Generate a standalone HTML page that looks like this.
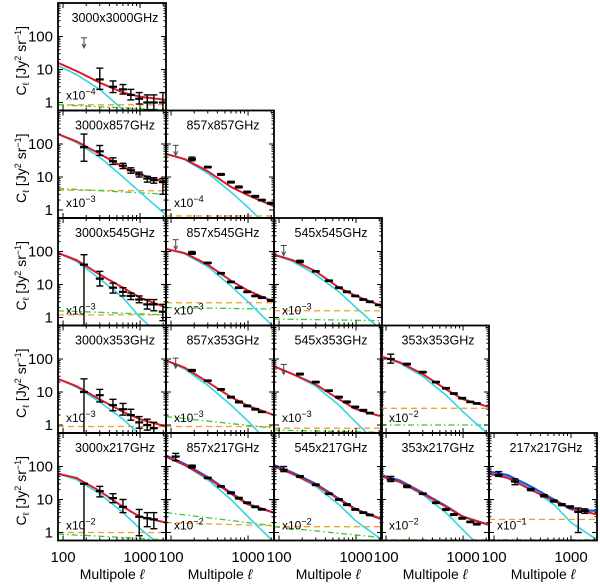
<!DOCTYPE html>
<html><head><meta charset="utf-8"><style>
html,body{margin:0;padding:0;background:#fff;}
svg text{font-family:"Liberation Sans",sans-serif;fill:#000;}
</style></head><body>
<svg id="c" width="600" height="582" xmlns="http://www.w3.org/2000/svg"></svg>
<script>
// Model curve grid (multipole values)
const LGRID = [86, 150, 300, 600, 1000, 2180];
// Data bin multipoles
const LBIN = [115, 187, 300, 445, 600, 760, 975, 1240, 1510, 1980];
// Panel titles [row][col]
const titles = [
 ["3000x3000GHz"],
 ["3000x857GHz","857x857GHz"],
 ["3000x545GHz","857x545GHz","545x545GHz"],
 ["3000x353GHz","857x353GHz","545x353GHz","353x353GHz"],
 ["3000x217GHz","857x217GHz","545x217GHz","353x217GHz","217x217GHz"]];
const exps = [[-4],[-3,-4],[-3,-3,-3],[-3,-3,-3,-2],[-2,-2,-2,-2,-1]];
// total model (red) at LGRID
const red = [
 [[16,9,4,2,1.5,1.2]],
 [[200,120,50,20,12,7],[50,35,15,5,2.8,1.3]],
 [[90,55,20,8,4,2],[120,90,40,13,6.5,3],[80,55,25,8,4.5,2.2]],
 [[25,15,6,2.5,1.5,0.9],[90,55,20,7,3.8,2],[60,35,17,6,3,1.8],[120,80,35,12,6,3.5]],
 [[60,45,18,6,3,2],[200,110,45,15,7,4],[100,60,28,10,5,2.5],[50,35,15,6,3,1.7],[60,45,20,9,5.5,3.5]]];
// 1-halo-like steep term (cyan)
const cyan = [
 [[13,7,2.5,0.6,0.2,0.05]],
 [[200,110,40,10,3.5,0.7],[50,34,13,3.5,1.2,0.2]],
 [[90,50,15,4,1,0.2],[120,85,35,9,3,0.5],[80,50,20,6,2,0.4]],
 [[25,14,5,1.5,0.5,0.1],[90,50,16,4,1.3,0.2],[60,35,15,4,1.2,0.2],[120,75,30,8,2.5,0.5]],
 [[60,40,15,4,1.3,0.3],[200,110,40,10,3,0.5],[100,58,25,7,2.2,0.6],[50,33,14,4,1.2,0.2],[70,50,22,7,2,0.6]]];
// blue (bottom row, cols 1-4)
const blue = [null,[215,120,48,16,7.2,4],[110,65,30,10.5,5,2.5],[55,38,16,6.3,3,1.7],[70,55,25,10,5,4.5]];
// orange dashed [start,end], green dash-dot [start,end]
const orange = [[[0.85,0.85]],[[4,3.8],[0.66,0.66]],[[1.2,1.2],[2.8,2.8],[1.6,1.6]],[[0.9,0.9],[0.9,0.9],[0.8,0.8],[3.2,3.2]],[[1,1],[2,1.6],[1.5,1.5],[0.6,0.6],[2.5,2.5]]];
const green = [[[0.85,0.6]],[[4.5,3],[0.4,0.4]],[[1.6,1.2],[2,1.8],[0.9,0.8]],[[0.5,0.5],[1.8,0.8],[0.7,0.6],[1,1]],[[0.9,0.6],[4,1.6],[1.5,0.7],[0.4,0.4],[0.6,0.6]]];
// data points: [binIndex, value, lo, hi, isUpperLimit]
const pts = [
 [[[1,60,60,60,1],[2,5,2.5,11],[3,3,2,4.5],[4,2.5,1.8,3.5],[5,1.7,1.2,2.5],[6,1.3,0.9,2],[7,1,0.6,1.7],[8,1,0.6,1.7],[9,1,0.4,2]]],
 [[[1,80,30,200],[2,60,45,90],[3,30,24,38],[4,22,18,26],[5,16,13,19],[6,12,10,14],[7,9,7,10.5],[8,8,6.5,9.5],[9,7,3,9]],
  [[0,60,60,60,1],[1,35,31,40],[2,20,19,21],[3,12,11.3,12.7],[4,7,6.6,7.4],[5,5,4.7,5.3],[6,3.5,3.3,3.7],[7,2.6,2.45,2.75],[8,2,1.9,2.1],[9,1.6,1.5,1.7]]],
 [[[1,40,0.5,80],[2,15,9,25],[3,8,5.5,11],[4,6,4.5,8],[5,4.5,3.5,5.5],[6,3.5,2.8,4.5],[7,2.5,1.8,3.5],[8,2.5,1.6,3.5],[9,1.5,0.8,2.5]],
  [[0,150,150,150,1],[1,90,82,100],[2,45,43,47],[3,22,21,23],[4,12,11.4,12.6],[5,8,7.6,8.4],[6,6,5.7,6.3],[7,4.5,4.3,4.7],[8,4,3.8,4.2],[9,3.3,3.1,3.5]],
  [[0,100,100,100,1],[1,50,46,54],[2,25,24,26],[3,13,12.4,13.6],[4,8,7.6,8.4],[5,6,5.7,6.3],[6,4.5,4.3,4.7],[7,3.5,3.35,3.65],[8,3,2.85,3.15],[9,2.4,2.3,2.5]]],
 [[[1,10,0.3,25],[2,8,5,12],[3,4,2.7,6],[4,3,2,4.5],[5,2,1.4,3],[6,1.2,0.8,1.8],[7,1,0.7,1.5],[8,0.8,0.5,1.2]],
  [[0,70,70,70,1],[1,45,42,48],[2,22,21,23],[3,12,11.4,12.6],[4,7,6.6,7.4],[5,5,4.7,5.3],[6,3.8,3.6,4],[7,3,2.85,3.15],[8,2.5,2.4,2.6]],
  [[0,45,45,45,1],[1,35,33,37],[2,20,19,21],[3,11,10.5,11.5],[4,7,6.6,7.4],[5,5,4.7,5.3],[6,3.5,3.3,3.7],[7,2.8,2.65,2.95],[8,2.3,2.2,2.4]],
  [[0,100,75,140],[1,70,66,74],[2,40,38,42],[3,20,19,21],[4,13,12.4,13.6],[5,9,8.6,9.4],[6,6.5,6.2,6.8],[7,5,4.8,5.2],[8,4.5,4.3,4.7]]],
 [[[1,30,0.4,30],[2,18,12,25],[3,11,8,15],[4,6,4,10],[6,3,0.8,5],[7,2.7,1.5,4],[8,2.5,1.3,4]],
  [[0,200,150,250],[1,100,90,110],[2,45,43,47],[3,25,24,26],[4,16,15,17],[5,11,10.4,11.6],[6,8,7.6,8.4],[7,6,5.7,6.3],[8,5,4.8,5.2]],
  [[0,80,70,100],[1,50,47,53],[2,28,26.5,29.5],[3,15,14.3,15.7],[4,10,9.5,10.5],[5,7,6.6,7.4],[6,5,4.75,5.25],[7,4,3.8,4.2],[8,3.4,3.25,3.55]],
  [[0,40,35,50,0],[1,25,23,27],[2,15,14.3,15.7],[3,8,7.6,8.4],[4,5,4.7,5.3],[5,3.5,3.3,3.7],[6,2.7,2.55,2.85],[7,2.1,2,2.2],[8,1.8,1.7,1.9]],
  [[0,55,50,70],[1,35,28,42],[2,20,18.5,21.5],[3,13,12,14],[4,9,8.4,9.6],[5,7,6.5,7.5],[6,6,5.6,6.4],[7,4.2,1,5.5],[8,4.5,3.8,5.2]]]];

const NS="http://www.w3.org/2000/svg";
const svg=document.getElementById('c');
function mk(tag,at,parent){const e=document.createElementNS(NS,tag);for(const k in at)e.setAttribute(k,at[k]);(parent||svg).appendChild(e);return e;}
const colL=[58,166,274,381,489], PW=108, rowT=[3,110.5,218,325.5,433], PH=107.5;
const LMIN=86, LDEC=77, VDEC=33;
function xs(c,l){return colL[c]+Math.log10(l/LMIN)*LDEC;}
function ys(r,v){return rowT[r]+PH-8-Math.log10(v)*VDEC;}
function pathFrom(r,c,arr){let d='';const n=40;for(let i=0;i<=n;i++){const t=i/n;const lg=Math.log10(LGRID[0])+t*(Math.log10(LGRID[5])-Math.log10(LGRID[0]));
 let k=0;const lx=LGRID.map(v=>Math.log10(v));while(k<4&&lg>lx[k+1])k++;const f=(lg-lx[k])/(lx[k+1]-lx[k]);
 const lv=Math.log10(arr[k])*(1-f)+Math.log10(arr[k+1])*f;d+=(i?'L':'M')+xs(c,Math.pow(10,lg)).toFixed(1)+','+ys(r,Math.pow(10,lv)).toFixed(1);}return d;}
const defs=mk('defs',{});
for(let r=0;r<5;r++)for(let c=0;c<=r;c++){
 const x0=colL[c],y0=rowT[r];
 const cp=mk('clipPath',{id:'cp'+r+c},defs);mk('rect',{x:x0,y:y0,width:PW,height:PH},cp);
 const g=mk('g',{});
 
 
 const cl=mk('g',{'clip-path':'url(#cp'+r+c+')'},g);
 const o=orange[r][c],gr=green[r][c];
 const oe=mk('line',{x1:x0,x2:x0+PW,y1:ys(r,o[0]),y2:ys(r,o[1]),stroke:'#f0a030','stroke-width':1.3,'stroke-dasharray':'6,4'},cl);
 
 const ge=mk('line',{x1:x0,x2:x0+PW,y1:ys(r,gr[0]),y2:ys(r,gr[1]),stroke:'#33cc33','stroke-width':1.3,'stroke-dasharray':'6,3,1.5,3'},cl);
 
 const ce=mk('path',{d:pathFrom(r,c,cyan[r][c]),fill:'none',stroke:'#33d6e0','stroke-width':1.6},cl);
 
 if(r==4&&blue[c]){const be=mk('path',{d:pathFrom(r,c,blue[c]),fill:'none',stroke:'#2255dd','stroke-width':2.2},cl);
  }
 const re=mk('path',{d:pathFrom(r,c,red[r][c]),fill:'none',stroke:'#dd1a2a','stroke-width':2},cl);
 
 for(const p of pts[r][c]){
  const px=xs(c,LBIN[p[0]]);const pg=mk('g',{},cl);
  
  if(p[4]){const yv=ys(r,p[1]);mk('line',{x1:px-3,x2:px+3,y1:yv-6,y2:yv-6,stroke:'#444','stroke-width':1},pg);
   mk('line',{x1:px,x2:px,y1:yv-6,y2:yv+3,stroke:'#444','stroke-width':1},pg);
   mk('path',{d:`M${px-2},${yv}L${px},${yv+4}L${px+2},${yv}`,fill:'none',stroke:'#444','stroke-width':1},pg);continue;}
  const ylo=ys(r,p[2]),yhi=ys(r,p[3]),yv=ys(r,p[1]);
  mk('line',{x1:px,x2:px,y1:ylo,y2:yhi,stroke:'#000','stroke-width':1.4},pg);
  mk('line',{x1:px-3.5,x2:px+3.5,y1:ylo,y2:ylo,stroke:'#000','stroke-width':1.4},pg);
  mk('line',{x1:px-3.5,x2:px+3.5,y1:yhi,y2:yhi,stroke:'#000','stroke-width':1.4},pg);
  mk('line',{x1:px-4,x2:px+4,y1:yv,y2:yv,stroke:'#000','stroke-width':2.2},pg);
 }
 // ticks
 const tk=mk('g',{stroke:'#000','stroke-width':1},g);
 
 for(const l of [100,200,300,400,500,600,700,800,900,1000,2000]){const x=xs(c,l);const len=(l==100||l==1000)?5:3;
  mk('line',{x1:x,x2:x,y1:y0+PH,y2:y0+PH-len},tk);mk('line',{x1:x,x2:x,y1:y0,y2:y0+len},tk);}
 for(const d of [1,10,100]){for(let m=1;m<10;m++){const v=d*m;const y=ys(r,v);if(y<y0)continue;const len=m==1?5:2.5;
  mk('line',{x1:x0,x2:x0+len,y1:y,y2:y},tk);mk('line',{x1:x0+PW,x2:x0+PW-len,y1:y,y2:y},tk);}}
 mk('rect',{x:x0,y:y0,width:PW,height:PH,fill:'none',stroke:'#000','stroke-width':1.8},g);
 const t=mk('text',{x:x0+PW/2+3,y:y0+19,'font-size':12.5,'text-anchor':'middle'},g);t.textContent=titles[r][c];
 
 const sc=mk('text',{x:x0+8,y:y0+PH-11,'font-size':12},g);sc.textContent='x10';
 const sp=mk('tspan',{dy:-5,'font-size':9},sc);sp.textContent=String(exps[r][c]).replace('-','−');
 
 if(c==0){for(const d of [1,10,100]){const yl=mk('text',{x:53,y:ys(r,d)+5,'font-size':15,'text-anchor':'end'},g);yl.textContent=String(d);
   }
  const yt=mk('text',{x:0,y:0,'font-size':14,'text-anchor':'middle',transform:`translate(26,${y0+PH/2+4}) rotate(-90)`},g);
  yt.innerHTML='C<tspan font-size="9" dy="3">ℓ</tspan><tspan dy="-3"> [Jy</tspan><tspan font-size="9" dy="-5">2</tspan><tspan dy="5"> sr</tspan><tspan font-size="9" dy="-5">−1</tspan><tspan dy="5">]</tspan>';
  }
 if(r==4){for(const l of [100,1000]){const xl=mk('text',{x:xs(c,l),y:562,'font-size':15,'text-anchor':'middle'},g);xl.textContent=String(l);
   }
  const xt=mk('text',{x:x0+PW/2,y:579,'font-size':14,'text-anchor':'middle'},g);xt.innerHTML='Multipole <tspan font-style="italic">ℓ</tspan>';
  }
}
</script>
</body></html>
